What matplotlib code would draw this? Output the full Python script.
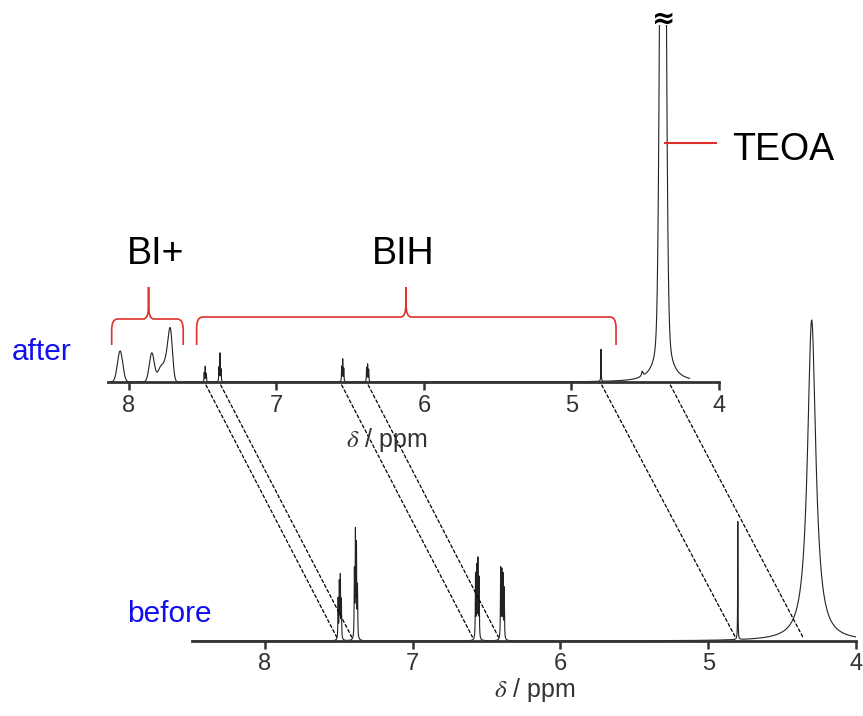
"""
1H NMR before / after - two stacked spectra with guide lines.
"""

import numpy as np
import matplotlib
matplotlib.use("Agg")
import matplotlib.pyplot as plt
from matplotlib.path import Path
from matplotlib.patches import PathPatch, ConnectionPatch

plt.rcParams["font.family"] = ["Liberation Sans", "DejaVu Sans"]
plt.rcParams["mathtext.fontset"] = "stix"

W, H = 863, 716

# ---- peak tables (ppm, height, width, shape: g = gauss sigma, l = lorentz hwhm) ----
after_ppm = [8.060, 7.845, 7.785, 7.740, 7.718,
             7.490, 7.483, 7.476, 7.390, 7.383, 7.376,
             6.558, 6.551, 6.544, 6.389, 6.382, 6.375,
             4.800, 4.520, 4.380, 4.380]
after_height = [31, 29, 14, 24, 40,
                9, 15, 8, 14, 28, 12,
                15, 22, 13, 14, 17, 12,
                32, 5, 900, 100]
after_width = [0.018, 0.017, 0.02, 0.02, 0.014,
               0.0015, 0.0015, 0.0015, 0.0015, 0.0015, 0.0015,
               0.0015, 0.0015, 0.0015, 0.0015, 0.0015, 0.0015,
               0.0012, 0.006, 0.016, 0.035]
after_shape = ["g", "g", "g", "g", "g",
               "l", "l", "l", "l", "l", "l",
               "l", "l", "l", "l", "l", "l",
               "l", "l", "g", "l"]

before_ppm = [7.505, 7.497, 7.490, 7.483,
              7.395, 7.388, 7.381, 7.374,
              6.575, 6.567, 6.559, 6.551,
              6.405, 6.397, 6.389, 6.381,
              4.800, 4.300]
before_height = [40, 55, 61, 38,
                 66, 103, 90, 50,
                 64, 70, 77, 60,
                 70, 66, 62, 50,
                 118, 321]
before_width = [0.0018] * 16 + [0.0012, 0.034]

ticks = [8, 7, 6, 5, 4]

# dashed guide lines: ppm on "after" -> ppm on "before"
link_after = [7.478, 7.378, 6.558, 6.378, 4.795, 4.330]
link_before = [7.515, 7.413, 6.596, 6.420, 4.817, 4.360]

RED = "#e0302c"
BLUE = "#1010ee"
INK = "#222222"


def spectrum(x, ppm, hgt, wid, shape=None):
    if shape is None:
        shape = ["l"] * len(ppm)
    y = np.zeros_like(x)
    for p, h, w, s in zip(ppm, hgt, wid, shape):
        if s == "g":
            y += h * np.exp(-0.5 * ((x - p) / w) ** 2)
        else:
            y += h * w ** 2 / ((x - p) ** 2 + w ** 2)
    return y


def px(x, y):
    return x / W, 1 - y / H


def style_axis(ax, xlim, ylim):
    ax.set_xlim(*xlim)
    ax.set_ylim(*ylim)
    for s in ("top", "left", "right"):
        ax.spines[s].set_visible(False)
    ax.spines["bottom"].set_linewidth(2)
    ax.spines["bottom"].set_color("#333333")
    ax.set_yticks([])
    ax.set_xticks(ticks)
    ax.set_xticklabels([str(t) for t in ticks])
    ax.tick_params(axis="x", direction="out", length=6, width=1.8, color="#333333",
                   labelsize=17, labelcolor="#333333", pad=3)
    ax.patch.set_visible(False)


def brace(ax, x0, x1, xc, y_end, y_bar, y_tip, rx=0.04, ry=11, rxc=0.034, ryc=14):
    verts = [(x0, y_end), (x0, y_bar - ry), (x0, y_bar), (x0 - rx, y_bar),
             (xc + rxc, y_bar), (xc, y_bar), (xc, y_bar + ryc), (xc, y_tip),
             (xc, y_bar + ryc), (xc, y_bar), (xc - rxc, y_bar),
             (x1 + rx, y_bar), (x1, y_bar), (x1, y_bar - ry), (x1, y_end)]
    codes = [Path.MOVETO, Path.LINETO, Path.CURVE3, Path.CURVE3,
             Path.LINETO, Path.CURVE3, Path.CURVE3, Path.LINETO,
             Path.LINETO, Path.CURVE3, Path.CURVE3,
             Path.LINETO, Path.CURVE3, Path.CURVE3, Path.LINETO]
    ax.add_patch(PathPatch(Path(verts, codes), fill=False, edgecolor=RED, lw=1.2,
                           clip_on=False))


fig = plt.figure(figsize=(W / 100, H / 100), dpi=100)
fig.set_facecolor("white")

# top: after
l, b = px(108, 382)
ax_a = fig.add_axes([l, b, (719 - 108) / W, (382 - 25) / H])
style_axis(ax_a, (8.142, 4.0), (0, 357))
xa = np.linspace(8.13, 4.2, 40000)
ax_a.plot(xa, spectrum(xa, after_ppm, after_height, after_width, after_shape),
          color=INK, lw=0.8)

# bottom: before
l, b = px(192, 641)
ax_b = fig.add_axes([l, b, (856 - 192) / W, (641 - 300) / H])
style_axis(ax_b, (8.494, 4.0), (0, 341))
xb = np.linspace(8.49, 4.0, 40000)
ax_b.plot(xb, spectrum(xb, before_ppm, before_height, before_width),
          color=INK, lw=0.8)

# guide lines
for pa, pb in zip(link_after, link_before):
    con = ConnectionPatch(xyA=(pa, -3), coordsA=ax_a.transData,
                          xyB=(pb, 4), coordsB=ax_b.transData,
                          color="black", lw=0.9, linestyle=(0, (2.5, 2)))
    fig.add_artist(con)

# braces
brace(ax_a, 8.117, 7.632, 7.867, 37, 63, 95)
brace(ax_a, 7.541, 4.698, 6.122, 37, 65, 95)

# texts
fig.text(*px(156, 264), "BI+", fontsize=27, ha="center", va="baseline")
fig.text(*px(403, 264), "BIH", fontsize=27, ha="center", va="baseline")
fig.text(*px(732, 160), "TEOA", fontsize=27, ha="left", va="baseline")
fig.add_artist(plt.Line2D([665 / W, 716 / W], [1 - 143 / H] * 2, color=RED, lw=1.5))
fig.text(*px(664, 19), "\u2248", fontsize=20, fontweight="bold", ha="center", va="center",
         family=["DejaVu Sans"])
fig.text(*px(12, 360), "after", fontsize=21.5, color=BLUE, ha="left", va="baseline")
fig.text(*px(127, 622), "before", fontsize=21.5, color=BLUE, ha="left", va="baseline")
fig.text(*px(387, 447), r"$\delta$ / ppm", fontsize=18, color="#333333",
         ha="center", va="baseline")
fig.text(*px(535, 697), r"$\delta$ / ppm", fontsize=18, color="#333333",
         ha="center", va="baseline")

fig.savefig("out.png", dpi=100, facecolor="white")
